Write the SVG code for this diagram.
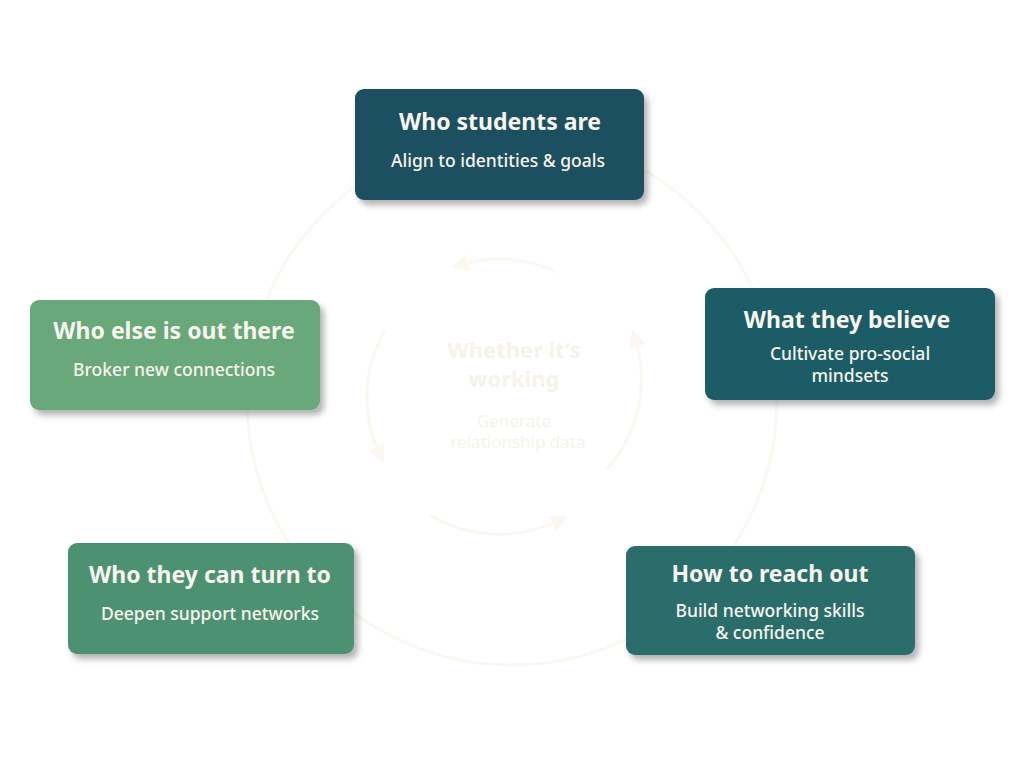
<svg xmlns="http://www.w3.org/2000/svg" width="1024" height="768" viewBox="0 0 1024 768">
<style>
.t{font-family:"Noto Sans","Liberation Sans",sans-serif;fill:#f8f6ee;text-anchor:middle}
.h{font-size:23px;font-weight:700}
.s{font-size:17.5px;font-weight:500}
.c{font-family:"Noto Sans","Liberation Sans",sans-serif;fill:#f7f3ea;text-anchor:middle}
.ring{fill:none;stroke:#fbf8f1;stroke-width:3}
</style>
<defs>
<filter id="sh" x="-10%" y="-20%" width="130%" height="150%"><feDropShadow dx="4" dy="5" stdDeviation="3" flood-color="#000" flood-opacity="0.3"/></filter>
<marker id="ah" viewBox="0 0 10 10" refX="5" refY="5" markerWidth="6" markerHeight="6" orient="auto"><path d="M0,0L10,5L0,10z" fill="#fbf8f1"/></marker>
</defs>
<rect width="1024" height="768" fill="#fff"/>
<circle class="ring" cx="512" cy="400" r="265"/>
<g id="connectors" class="ring">
<path d="M557,272 A135,135 0 0 0 460,265" marker-end="url(#ah)"/>
<path d="M385,330 A135,135 0 0 0 380,455" marker-end="url(#ah)"/>
<path d="M430,515 A135,135 0 0 0 560,520" marker-end="url(#ah)"/>
<path d="M606,470 A135,135 0 0 0 635,338" marker-end="url(#ah)"/>
</g>
<g id="center">
<text class="c" x="514" y="358" font-size="22" font-weight="700">Whether it’s</text>
<text class="c" x="514" y="387" font-size="22" font-weight="700">working</text>
<text class="c" x="514" y="427" font-size="17">Generate</text>
<text class="c" x="518" y="448" font-size="17">relationship data</text>
</g>
<g id="n1"><rect x="355" y="89" width="289" height="111" rx="9" fill="#1b4f5e" filter="url(#sh)"/>
<text class="t h" x="500" y="130">Who students are</text><text class="t s" x="498" y="167">Align to identities &amp; goals</text></g>
<g id="n2"><rect x="705" y="288" width="290" height="112" rx="9" fill="#1f5b66" filter="url(#sh)"/>
<text class="t h" x="847" y="328">What they believe</text><text class="t s" x="850" y="360">Cultivate pro-social</text><text class="t s" x="850" y="382">mindsets</text></g>
<g id="n3"><rect x="626" y="546" width="289" height="109" rx="9" fill="#2c6d6b" filter="url(#sh)"/>
<text class="t h" x="770" y="582">How to reach out</text><text class="t s" x="770" y="617">Build networking skills</text><text class="t s" x="770" y="639">&amp; confidence</text></g>
<g id="n4"><rect x="68" y="543" width="286" height="111" rx="9" fill="#4d9173" filter="url(#sh)"/>
<text class="t h" x="210" y="583">Who they can turn to</text><text class="t s" x="210" y="620">Deepen support networks</text></g>
<g id="n5"><rect x="30" y="300" width="290" height="110" rx="9" fill="#68a87a" filter="url(#sh)"/>
<text class="t h" x="174" y="339">Who else is out there</text><text class="t s" x="174" y="376">Broker new connections</text></g>
</svg>
